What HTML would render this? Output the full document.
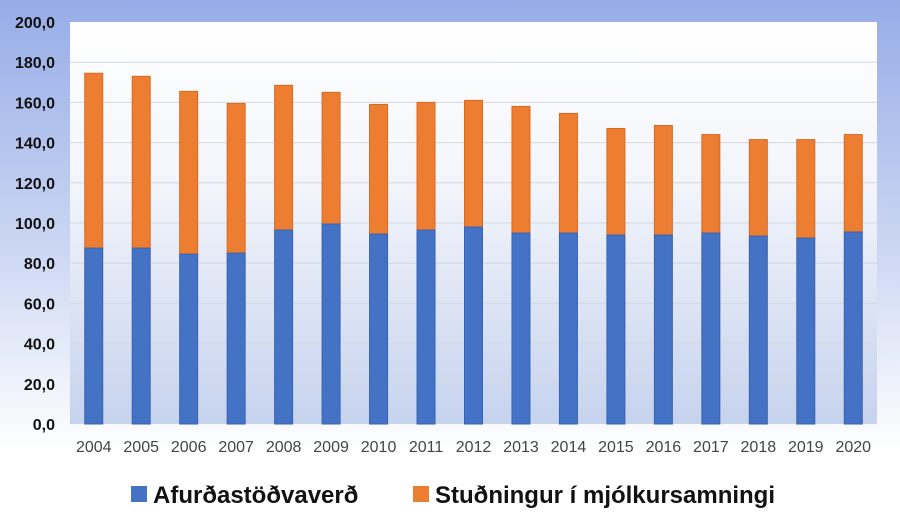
<!DOCTYPE html><html><head><meta charset="utf-8"><style>
body{margin:0;width:900px;height:530px;overflow:hidden;background:linear-gradient(#97ace8 0%,#c9d5f2 45%,#ffffff 85%,#ffffff 100%);font-family:"Liberation Sans",sans-serif}
</style></head><body>
<svg width="900" height="530" style="position:absolute;left:0;top:0">
<defs><linearGradient id="pg" x1="0" y1="0" x2="0" y2="1"><stop offset="0" stop-color="#ffffff"/><stop offset="0.4" stop-color="#f3f5fb"/><stop offset="1" stop-color="#c6d3ee"/></linearGradient></defs>
<rect x="70" y="22" width="807" height="402" fill="url(#pg)"/>
<g id="grid" stroke="#d4d8e0" stroke-width="1"></g>
<g id="bars"></g>
<g id="lab" font-size="16" fill="#222" font-weight="bold"></g>
<g font-size="24" font-weight="bold" fill="#111">
<rect x="131" y="486" width="16" height="16" fill="#4472c4"/>
<text x="153" y="503">Afurðastöðvaverð</text>
<rect x="413" y="486" width="16" height="16" fill="#ed7d31"/>
<text x="435" y="503">Stuðningur í mjólkursamningi</text>
</g>
</svg>
<script>
var b=[87.5,87.5,84.5,85,96.5,99.5,94.5,96.5,98,95,95,94,94,95,93.5,92.5,95.5];
var t=[174.5,173,165.5,159.5,168.5,165,159,160,161,158,154.5,147,148.5,144,141.5,141.5,144];
var ns="http://www.w3.org/2000/svg";
function el(p,n,a,tx){var e=document.createElementNS(ns,n);for(var k in a)e.setAttribute(k,a[k]);if(tx)e.textContent=tx;document.getElementById(p).appendChild(e);}
function Y(v){return 424-v*2.01;}
for(var v=0;v<=200;v+=20){if(v>0&&v<200)el('grid','line',{x1:70,x2:877,y1:Y(v),y2:Y(v)});el('lab','text',{x:55,y:Y(v)+6,'text-anchor':'end',fill:'#111'},v+',0');}
var w=807/17;
for(var i=0;i<17;i++){var cx=70+w*(i+0.5);
el('bars','rect',{x:cx-9,y:Y(t[i]),width:18,height:Y(b[i])-Y(t[i]),fill:'#ed7d31',stroke:'#d86a22','stroke-width':1});
el('bars','rect',{x:cx-9,y:Y(b[i]),width:18,height:424-Y(b[i]),fill:'#4472c4',stroke:'#3a63b0','stroke-width':1});
el('lab','text',{x:cx,y:452,'text-anchor':'middle',fill:'#444','font-weight':'normal'},String(2004+i));}
</script>
</body></html>
